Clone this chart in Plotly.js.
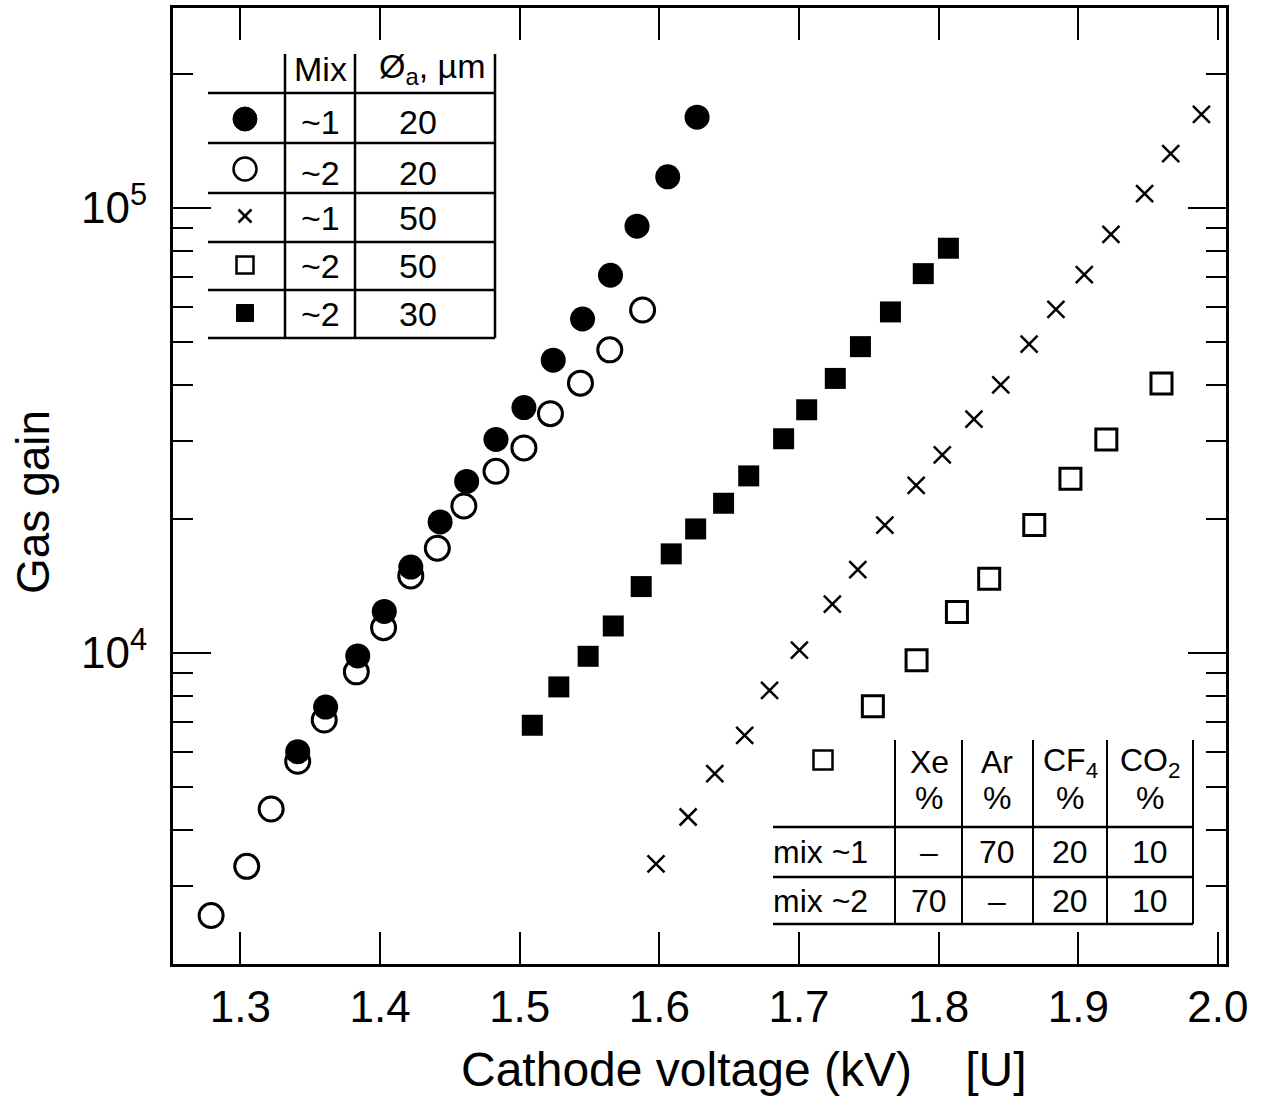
<!DOCTYPE html>
<html>
<head>
<meta charset="utf-8">
<script src="https://cdn.plot.ly/plotly-3.0.1.min.js"></script>
<style>
  html, body { margin: 0; padding: 0; background: #ffffff; }
  #chart { width: 1280px; height: 1107px; }
</style>
</head>
<body>
<div id="chart"></div>
<script>
// ---------------- data ----------------
// Mix ~1, anode 20 um (filled circles)
const filledCircleX = [1.341, 1.361, 1.384, 1.403, 1.422, 1.443, 1.462, 1.483, 1.503, 1.524, 1.545, 1.565, 1.584, 1.606, 1.627];
const filledCircleY = [6000, 7560, 9850, 12400, 15600, 19700, 24300, 30200, 35600, 45500, 56300, 70600, 91000, 117500, 160000];
// Mix ~2, anode 20 um (open circles)
const openCircleX = [1.279, 1.3045, 1.322, 1.341, 1.360, 1.383, 1.4025, 1.422, 1.441, 1.460, 1.483, 1.503, 1.522, 1.5435, 1.5645, 1.588];
const openCircleY = [2570, 3315, 4460, 5710, 7070, 9070, 11400, 14900, 17200, 21400, 25600, 28900, 34500, 40400, 48000, 59000];
// Mix ~1, anode 50 um (crosses)
const crossX = [1.5976, 1.6206, 1.6397, 1.6611, 1.6789, 1.7003, 1.7239, 1.7421, 1.7615, 1.7839, 1.8026, 1.8253, 1.8445, 1.8648, 1.8840, 1.9043, 1.9234, 1.9475, 1.9662, 1.9882];
const crossY = [3360, 4280, 5360, 6530, 8240, 10150, 12870, 15390, 19380, 23800, 27890, 33540, 40050, 49450, 59170, 70810, 87220, 107700, 132400, 162300];
// Mix ~2, anode 50 um (open squares)
const openSquareX = [1.7529, 1.7842, 1.8131, 1.8362, 1.8685, 1.8944, 1.9201, 1.9596];
const openSquareY = [7590, 9625, 12370, 14680, 19380, 24630, 30180, 40350];
// Mix ~2, anode 30 um (filled squares)
const filledSquareX = [1.509, 1.528, 1.549, 1.567, 1.587, 1.6085, 1.626, 1.646, 1.664, 1.689, 1.7055, 1.726, 1.744, 1.7655, 1.789, 1.807];
const filledSquareY = [6880, 8390, 9830, 11500, 14100, 16700, 19000, 21700, 25000, 30300, 35200, 41400, 48800, 58400, 71200, 81200];

// axis ticks
const xTickVals = [1.3, 1.4, 1.5, 1.6, 1.7, 1.8, 1.9, 2.0];
const xTickText = ['1.3', '1.4', '1.5', '1.6', '1.7', '1.8', '1.9', '2.0'];
const yTickVals = [10000, 100000];
const yTickText = ['10<sup>4</sup>', '10<sup>5</sup>'];
const yMinorVals = [3000, 4000, 5000, 6000, 7000, 8000, 9000,
                    20000, 30000, 40000, 50000, 60000, 70000, 80000, 90000, 200000];

// legend table (top left)
const legendHeader = ['Mix', 'Ø<sub>a</sub>, µm'];
const legendMix = ['~1', '~2', '~1', '~2', '~2'];
const legendDiam = ['20', '20', '50', '50', '30'];

// gas composition table (bottom right)
const gasHeaders = ['Xe', 'Ar', 'CF<sub>4</sub>', 'CO<sub>2</sub>'];
const gasUnit = '%';
const mixNames = ['mix ~1', 'mix ~2'];
const mixValues = [['–', '70', '20', '10'], ['70', '–', '20', '10']];

// axis titles
const xTitle = 'Cathode voltage (kV)\u00a0\u00a0\u00a0\u00a0[U]';
const yTitle = 'Gas gain';

// ---------------- layout geometry ----------------
const W = 1280, H = 1107;
const L = 173, R = 1226, T = 8, B = 964;
const FONT = 'Liberation Sans, Arial, Helvetica, sans-serif';
const px = v => (v - L) / (R - L);
const py = v => (B - v) / (B - T);

const shapes = [];
const annotations = [];
function hline(x0, x1, y, w) {
  shapes.push({type: 'line', xref: 'paper', yref: 'paper', x0: px(x0), x1: px(x1), y0: py(y), y1: py(y),
               line: {color: 'black', width: w || 2.5}});
}
function vline(x, y0, y1, w) {
  shapes.push({type: 'line', xref: 'paper', yref: 'paper', x0: px(x), x1: px(x), y0: py(y0), y1: py(y1),
               line: {color: 'black', width: w || 2.5}});
}
function text(t, x, y, size, anchor) {
  annotations.push({text: t, xref: 'paper', yref: 'paper', x: px(x), y: py(y), showarrow: false,
                    xanchor: anchor || 'center', yanchor: 'middle',
                    font: {family: FONT, size: size, color: 'black'}});
}
function symbol(kind, cx, cy, s) {
  const h = s / 2;
  const base = {xref: 'paper', yref: 'paper', x0: px(cx - h), x1: px(cx + h), y0: py(cy + h), y1: py(cy - h)};
  if (kind === 'fcircle') shapes.push(Object.assign({type: 'circle', fillcolor: 'black', line: {color: 'black', width: 1}}, base));
  if (kind === 'ocircle') shapes.push(Object.assign({type: 'circle', fillcolor: 'rgba(0,0,0,0)', line: {color: 'black', width: 2.5}}, base));
  if (kind === 'fsquare') shapes.push(Object.assign({type: 'rect', fillcolor: 'black', line: {color: 'black', width: 1}}, base));
  if (kind === 'osquare') shapes.push(Object.assign({type: 'rect', fillcolor: 'rgba(0,0,0,0)', line: {color: 'black', width: 2.5}}, base));
  if (kind === 'cross') {
    shapes.push({type: 'line', xref: 'paper', yref: 'paper', x0: px(cx - h), x1: px(cx + h), y0: py(cy - h), y1: py(cy + h), line: {color: 'black', width: 2.5}});
    shapes.push({type: 'line', xref: 'paper', yref: 'paper', x0: px(cx - h), x1: px(cx + h), y0: py(cy + h), y1: py(cy - h), line: {color: 'black', width: 2.5}});
  }
}

// ---- legend table (top left)
const t1Rows = [93, 143, 193, 242, 290, 338];
t1Rows.forEach(y => hline(208, 495, y));
[285, 355, 495].forEach(x => vline(x, 54, 338));
text(legendHeader[0], 320, 69, 34);
text(legendHeader[1], 432, 69, 34);
const t1Kinds = ['fcircle', 'ocircle', 'cross', 'osquare', 'fsquare'];
const t1Sizes = [24, 23, 13, 17, 17];
const t1SymY = [119, 169, 216, 265, 313];
const t1TxtY = [122, 173, 218, 266, 314];
t1Kinds.forEach((k, i) => {
  symbol(k, 245, t1SymY[i], t1Sizes[i]);
  text(legendMix[i], 320, t1TxtY[i], 34);
  text(legendDiam[i], 418, t1TxtY[i], 34);
});

// ---- gas table (bottom right)
const t2Cols = [895, 962, 1033, 1107, 1193];
t2Cols.forEach(x => vline(x, 740, 924, 2));
[827, 877, 924].forEach(y => hline(773, 1193, y, 2.5));
symbol('osquare', 823, 760, 19);
const t2Centers = [929, 997, 1070, 1150];
gasHeaders.forEach((h, i) => {
  text(h, t2Centers[i], 762, 32);
  text(gasUnit, t2Centers[i], 798, 32);
});
const t2RowY = [852, 901];
mixNames.forEach((m, r) => {
  text(m, 771, t2RowY[r], 32, 'left');
  mixValues[r].forEach((v, i) => text(v, t2Centers[i], t2RowY[r], 32));
});

// ---- axis titles (placed as in the reference)
annotations.push({text: xTitle, xref: 'paper', yref: 'paper', x: px(744), y: py(1069), showarrow: false,
                  xanchor: 'center', yanchor: 'middle', font: {family: FONT, size: 48, color: 'black'}});
annotations.push({text: yTitle, xref: 'paper', yref: 'paper', x: px(33), y: py(502), showarrow: false, textangle: -90,
                  xanchor: 'center', yanchor: 'middle', font: {family: FONT, size: 46, color: 'black'}});

// ---------------- traces ----------------
const traces = [
  {x: filledCircleX, y: filledCircleY, name: 'Mix ~1, 20 µm', type: 'scatter', mode: 'markers',
   marker: {symbol: 'circle', size: 25, color: 'black', line: {width: 0}}},
  {x: openCircleX, y: openCircleY, name: 'Mix ~2, 20 µm', type: 'scatter', mode: 'markers',
   marker: {symbol: 'circle-open', size: 24, color: 'black', line: {width: 3, color: 'black'}}},
  {x: crossX, y: crossY, name: 'Mix ~1, 50 µm', type: 'scatter', mode: 'markers',
   marker: {symbol: 'x-thin-open', size: 17, color: 'black', line: {width: 2.5, color: 'black'}}},
  {x: openSquareX, y: openSquareY, name: 'Mix ~2, 50 µm', type: 'scatter', mode: 'markers',
   marker: {symbol: 'square-open', size: 21, color: 'black', line: {width: 3, color: 'black'}}},
  {x: filledSquareX, y: filledSquareY, name: 'Mix ~2, 30 µm', type: 'scatter', mode: 'markers',
   marker: {symbol: 'square', size: 21, color: 'black', line: {width: 0}}}
];

const layout = {
  width: W, height: H,
  margin: {l: L, r: W - R, t: T, b: H - B, pad: 0},
  paper_bgcolor: 'white', plot_bgcolor: 'white',
  showlegend: false,
  font: {family: FONT, color: 'black'},
  xaxis: {
    range: [1.2517, 2.0058], tickmode: 'array', tickvals: xTickVals, ticktext: xTickText,
    ticks: 'inside', ticklen: 32, tickwidth: 2, tickcolor: 'black',
    showline: true, linewidth: 3, linecolor: 'black', mirror: 'allticks',
    showgrid: false, zeroline: false,
    tickfont: {family: FONT, size: 44, color: 'black'}, ticklabelstandoff: 2
  },
  yaxis: {
    type: 'log', range: [3.3011, 5.4494], tickmode: 'array', tickvals: yTickVals, ticktext: yTickText,
    ticks: 'inside', ticklen: 38, tickwidth: 2, tickcolor: 'black',
    minor: {tickmode: 'array', tickvals: yMinorVals, ticks: 'inside', ticklen: 20, tickwidth: 2, tickcolor: 'black', showgrid: false},
    showline: true, linewidth: 3, linecolor: 'black', mirror: 'allticks',
    showgrid: false, zeroline: false,
    tickfont: {family: FONT, size: 44, color: 'black'}, ticklabelstandoff: 14
  },
  shapes: shapes,
  annotations: annotations
};

Plotly.newPlot('chart', traces, layout, {displayModeBar: false, staticPlot: true});
</script>
</body>
</html>
